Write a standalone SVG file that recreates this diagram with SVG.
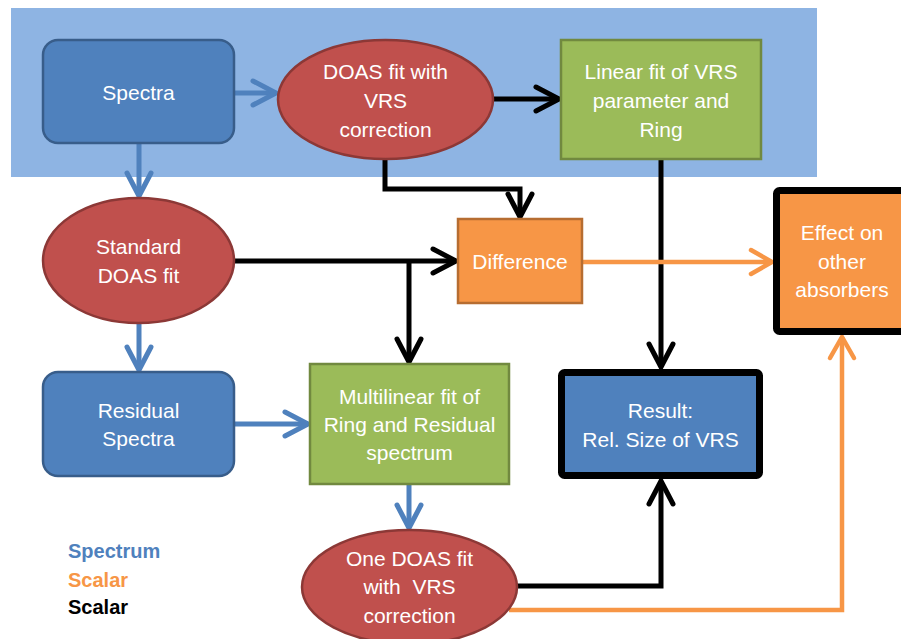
<svg xmlns="http://www.w3.org/2000/svg" width="901" height="639" viewBox="0 0 901 639">
<style>
.lbl{font-family:"Liberation Sans",Arial,sans-serif;font-size:21px;fill:#ffffff;text-anchor:middle}
.leg{font-family:"Liberation Sans",Arial,sans-serif;font-size:20px;font-weight:bold}
.blue{fill:#4f81bd;stroke:#385d8a;stroke-width:2.5}
.red{fill:#c0504d;stroke:#8c3836;stroke-width:2.5}
.green{fill:#9bbb59;stroke:#71893f;stroke-width:2.5}
.orange{fill:#f79646;stroke:#b66d31;stroke-width:2.5}
.cb{fill:none;stroke:#4f81bd;stroke-width:5}
.ck{fill:none;stroke:#000000;stroke-width:5}
.co{fill:none;stroke:#f79646;stroke-width:4.5}
</style>
<defs>
<marker id="ab" markerUnits="userSpaceOnUse" markerWidth="40" markerHeight="40" viewBox="0 0 40 40" refX="30" refY="20" orient="auto" overflow="visible">
<path d="M7,8 L30,20 L7,32" fill="none" stroke="#4f81bd" stroke-width="5" stroke-linecap="round" stroke-linejoin="miter"/>
</marker>
<marker id="ak" markerUnits="userSpaceOnUse" markerWidth="40" markerHeight="40" viewBox="0 0 40 40" refX="30" refY="20" orient="auto" overflow="visible">
<path d="M7,8 L30,20 L7,32" fill="none" stroke="#000000" stroke-width="5" stroke-linecap="round" stroke-linejoin="miter"/>
</marker>
<marker id="ao" markerUnits="userSpaceOnUse" markerWidth="40" markerHeight="40" viewBox="0 0 40 40" refX="30" refY="20" orient="auto" overflow="visible">
<path d="M9,8 L30,20 L9,32" fill="none" stroke="#f79646" stroke-width="4.5" stroke-linecap="round" stroke-linejoin="miter"/>
</marker>
</defs>
<rect id="background-panel" x="11" y="8" width="806" height="169" fill="#8eb4e3"/>
<g id="connectors">
<path class="cb" d="M234,93 H276" marker-end="url(#ab)"/>
<path class="cb" d="M139,143 V196" marker-end="url(#ab)"/>
<path class="cb" d="M139,323 V370" marker-end="url(#ab)"/>
<path class="cb" d="M234,424 H308" marker-end="url(#ab)"/>
<path class="cb" d="M409,484 V528" marker-end="url(#ab)"/>
<path class="ck" d="M493,99 H559" marker-end="url(#ak)"/>
<path class="ck" d="M385,159 V189 H520 V217" marker-end="url(#ak)"/>
<path class="ck" d="M234,261 H456" marker-end="url(#ak)"/>
<path class="ck" d="M409,261 V362" marker-end="url(#ak)"/>
<path class="ck" d="M661,159 V367" marker-end="url(#ak)"/>
<path class="ck" d="M515,586 H661 V481" marker-end="url(#ak)"/>
<path class="co" d="M582,262 H772" marker-end="url(#ao)"/>
<path class="co" d="M509,610 H842 V337" marker-end="url(#ao)"/>
</g>
<g id="spectra">
<rect class="blue" x="43" y="40" width="191" height="103" rx="15"/>
<text class="lbl" x="138.5" y="100">Spectra</text>
</g>
<g id="doas-vrs">
<ellipse class="red" cx="385.5" cy="99.5" rx="107.5" ry="59.5"/>
<text class="lbl" x="385.5" y="79">DOAS fit with</text>
<text class="lbl" x="385.5" y="108">VRS</text>
<text class="lbl" x="385.5" y="137">correction</text>
</g>
<g id="linear-fit">
<rect class="green" x="561" y="40" width="200" height="119"/>
<text class="lbl" x="661" y="79">Linear fit of VRS</text>
<text class="lbl" x="661" y="108">parameter and</text>
<text class="lbl" x="661" y="137">Ring</text>
</g>
<g id="standard-doas">
<ellipse class="red" cx="138.5" cy="260.5" rx="95.5" ry="62.5"/>
<text class="lbl" x="138.5" y="254">Standard</text>
<text class="lbl" x="138.5" y="283">DOAS fit</text>
</g>
<g id="difference">
<rect class="orange" x="458" y="219" width="124" height="84"/>
<text class="lbl" x="520" y="269">Difference</text>
</g>
<g id="effect">
<rect x="776.5" y="190.5" width="140" height="141" rx="3" fill="#f79646" stroke="#000000" stroke-width="7"/>
<text class="lbl" x="842" y="240">Effect on</text>
<text class="lbl" x="842" y="269">other</text>
<text class="lbl" x="842" y="297">absorbers</text>
</g>
<g id="residual-spectra">
<rect class="blue" x="43" y="372" width="191" height="104" rx="15"/>
<text class="lbl" x="138.5" y="418">Residual</text>
<text class="lbl" x="138.5" y="446">Spectra</text>
</g>
<g id="multilinear">
<rect class="green" x="310" y="364" width="199" height="120"/>
<text class="lbl" x="409.5" y="404">Multilinear fit of</text>
<text class="lbl" x="409.5" y="432">Ring and Residual</text>
<text class="lbl" x="409.5" y="460">spectrum</text>
</g>
<g id="result">
<rect x="561.5" y="372.5" width="198" height="103" rx="3" fill="#4f81bd" stroke="#000000" stroke-width="7"/>
<text class="lbl" x="660.5" y="418">Result:</text>
<text class="lbl" x="660.5" y="447">Rel. Size of VRS</text>
</g>
<g id="one-doas">
<ellipse class="red" cx="409.5" cy="587" rx="107.5" ry="57"/>
<text class="lbl" x="409.5" y="566">One DOAS fit</text>
<text class="lbl" x="409.5" y="594" xml:space="preserve">with  VRS</text>
<text class="lbl" x="409.5" y="623">correction</text>
</g>
<g id="legend">
<text class="leg" x="68" y="558" fill="#4f81bd">Spectrum</text>
<text class="leg" x="68" y="587" fill="#f79646">Scalar</text>
<text class="leg" x="68" y="614" fill="#000000">Scalar</text>
</g>
</svg>
